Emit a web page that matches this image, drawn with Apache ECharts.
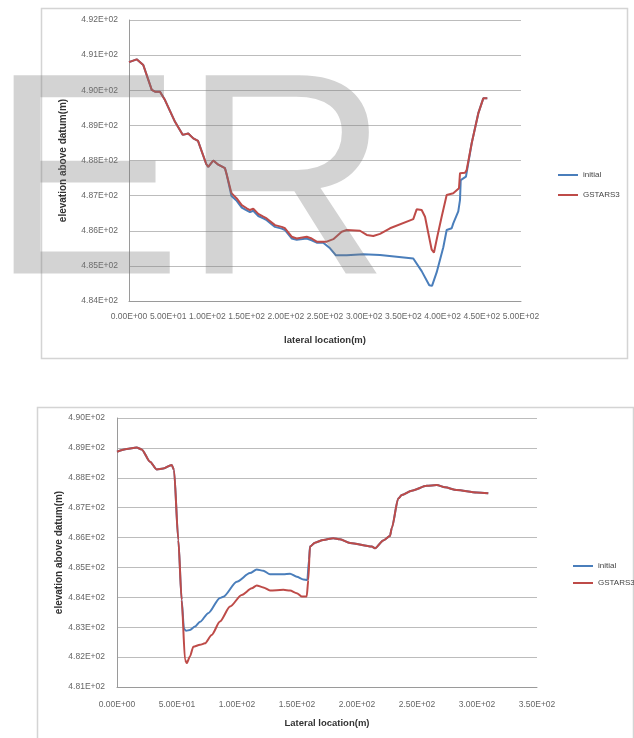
<!DOCTYPE html>
<html>
<head>
<meta charset="utf-8">
<script src="https://cdn.jsdelivr.net/npm/echarts@6/dist/echarts.min.js"></script>
<style>
  html, body { margin: 0; padding: 0; background: #fff; }
  #main { width: 634px; height: 738px; }
</style>
</head>
<body>
<div id="main"></div>
<script>
// tick labels
var xTicksTop = ['0.00E+00','5.00E+01','1.00E+02','1.50E+02','2.00E+02','2.50E+02','3.00E+02','3.50E+02','4.00E+02','4.50E+02','5.00E+02'];
var yTicksTop = ['4.84E+02','4.85E+02','4.86E+02','4.87E+02','4.88E+02','4.89E+02','4.90E+02','4.91E+02','4.92E+02'];
var xTicksBot = ['0.00E+00','5.00E+01','1.00E+02','1.50E+02','2.00E+02','2.50E+02','3.00E+02','3.50E+02'];
var yTicksBot = ['4.81E+02','4.82E+02','4.83E+02','4.84E+02','4.85E+02','4.86E+02','4.87E+02','4.88E+02','4.89E+02','4.90E+02'];

// top chart - lateral location (m) / elevation (m)
var topGstarsX = [0, 9.8, 18.2, 29.0, 33.2, 39.5, 45.9, 58.7, 68.5, 75.6, 82.0, 88.0, 98.5, 101.1, 107.5, 113.9, 122.4, 124.6, 130.7, 137.4, 143.8, 150.1, 154.3, 158.5, 164.9, 171.3, 175.6, 186.2, 194.8, 199.0, 207.5, 213.9, 226.7, 233.0, 239.4, 252.2, 260.6, 271.3, 277.7, 294.6, 303.2, 311.6, 320.2, 332.9, 362.6, 366.9, 373.3, 377.6, 381.8, 386.1, 389.0, 393.2, 398.8, 405.2, 413.6, 420.9, 422.2, 428.6, 430.7, 437.1, 445.5, 451.9, 457.0];
var topGstarsY = [490.80, 490.88, 490.72, 490.01, 489.96, 489.96, 489.72, 489.10, 488.73, 488.77, 488.63, 488.56, 487.90, 487.82, 488.00, 487.88, 487.78, 487.60, 487.07, 486.92, 486.73, 486.64, 486.59, 486.63, 486.48, 486.40, 486.35, 486.16, 486.11, 486.07, 485.83, 485.78, 485.83, 485.78, 485.69, 485.69, 485.76, 485.97, 486.02, 486.00, 485.88, 485.85, 485.91, 486.07, 486.33, 486.61, 486.59, 486.40, 485.93, 485.46, 485.38, 485.83, 486.40, 487.02, 487.07, 487.21, 487.64, 487.65, 487.73, 488.49, 489.34, 489.77, 489.77];
var topInitialX = [0, 9.8, 18.2, 29.0, 33.2, 39.5, 45.9, 58.7, 68.5, 75.6, 82.0, 88.0, 98.5, 101.1, 107.5, 113.9, 122.4, 124.6, 130.7, 137.4, 143.8, 150.1, 154.3, 158.5, 164.9, 171.3, 175.6, 186.2, 194.8, 199.0, 207.5, 213.9, 226.7, 233.0, 239.4, 247.8, 256.4, 264.0, 277.7, 298.9, 320.2, 362.6, 373.3, 383.0, 386.5, 392.5, 400.9, 405.2, 411.6, 413.6, 420.0, 422.2, 423.1, 429.8, 437.1, 445.5, 451.9, 457.0];
var topInitialY = [490.80, 490.88, 490.72, 490.01, 489.96, 489.96, 489.72, 489.10, 488.73, 488.77, 488.63, 488.56, 487.90, 487.82, 488.00, 487.88, 487.78, 487.60, 486.99, 486.85, 486.66, 486.58, 486.53, 486.57, 486.42, 486.35, 486.30, 486.11, 486.06, 486.02, 485.78, 485.74, 485.78, 485.73, 485.66, 485.66, 485.50, 485.30, 485.30, 485.33, 485.31, 485.21, 484.85, 484.45, 484.43, 484.82, 485.53, 486.02, 486.07, 486.21, 486.55, 486.88, 487.44, 487.54, 488.49, 489.34, 489.77, 489.77];

// bottom chart
var botGstarsX = [0, 8.1, 16.4, 20.6, 27.5, 33.1, 38.6, 45.6, 47.5, 51.1, 53.9, 56.7, 58.1, 60.8, 63.6, 69.2, 73.3, 78.9, 85.8, 94.2, 103.9, 112.3, 116.4, 121.9, 127.5, 138.6, 144.2, 149.8, 153.9, 158.1, 159.4, 160.8, 165.0, 171.9, 180.3, 185.8, 194.2, 212.3, 215.0, 221.9, 227.5, 228.9, 234.4, 237.3, 245.6, 258.1, 266.4, 273.3, 283.1, 299.8, 309.4];
var botGstarsY = [488.87, 488.96, 489.01, 488.95, 488.54, 488.28, 488.31, 488.43, 488.26, 485.92, 483.91, 481.91, 481.80, 482.02, 482.35, 482.41, 482.46, 482.74, 483.19, 483.69, 484.08, 484.30, 484.40, 484.33, 484.23, 484.25, 484.23, 484.14, 484.03, 484.03, 484.58, 485.70, 485.83, 485.92, 485.98, 485.94, 485.82, 485.70, 485.64, 485.90, 486.05, 486.31, 487.31, 487.42, 487.57, 487.73, 487.76, 487.68, 487.59, 487.51, 487.48];
var botInitialX = [0, 8.1, 16.4, 20.6, 27.5, 33.1, 38.6, 45.6, 47.5, 51.1, 53.9, 55.8, 57.5, 60.8, 65.0, 69.2, 76.0, 85.8, 88.6, 99.8, 110.8, 116.4, 121.9, 127.5, 138.6, 144.2, 149.8, 155.3, 158.6, 160.0, 160.8, 165.0, 171.9, 180.3, 185.8, 194.2, 212.3, 215.0, 221.9, 227.5, 228.9, 234.4, 237.3, 245.6, 258.1, 266.4, 273.3, 283.1, 299.8, 309.4];
var botInitialY = [488.87, 488.96, 489.01, 488.95, 488.54, 488.28, 488.31, 488.43, 488.26, 485.92, 483.91, 482.95, 482.88, 482.91, 483.02, 483.18, 483.47, 483.98, 484.02, 484.52, 484.81, 484.93, 484.89, 484.77, 484.77, 484.79, 484.69, 484.60, 484.58, 485.25, 485.70, 485.83, 485.92, 485.98, 485.94, 485.82, 485.70, 485.64, 485.90, 486.05, 486.31, 487.31, 487.42, 487.57, 487.73, 487.76, 487.68, 487.59, 487.51, 487.48];

function pairs(xs, ys) {
    var out = [];
    for (var i = 0; i < xs.length; i++) out.push([xs[i], ys[i]]);
    return out;
}

var blue = '#4a7ebb';
var red = '#be4b48';
var font = '"Liberation Sans", Arial, sans-serif';
var labelStyle = { color: '#666', fontSize: 8.5, fontFamily: font };
var xNameStyle = { color: '#333', fontSize: 9.5, fontWeight: 'bold', fontFamily: font };
var yNameStyle = { color: '#333', fontSize: 10, fontWeight: 'bold', fontFamily: font };
var gridLine = { show: true, lineStyle: { color: '#bcbcbc', width: 1 } };
var axLine = { show: true, lineStyle: { color: '#9a9a9a', width: 1 } };

var chart = echarts.init(document.getElementById('main'));

var option = {
    backgroundColor: '#fff',
    animation: false,
    grid: [
        { left: 129, top: 20, width: 392, height: 281 },
        { left: 117, top: 418, width: 420, height: 269 }
    ],
    xAxis: [
        {
            gridIndex: 0, type: 'value', min: 0, max: 500, interval: 50,
            axisLine: axLine, axisTick: { show: false }, splitLine: { show: false },
            axisLabel: Object.assign({ margin: 11, formatter: function (v) { return xTicksTop[Math.round(v / 50)]; } }, labelStyle),
            name: 'lateral location(m)', nameLocation: 'middle', nameGap: 34, nameTextStyle: xNameStyle
        },
        {
            gridIndex: 1, type: 'value', min: 0, max: 350, interval: 50,
            axisLine: axLine, axisTick: { show: false }, splitLine: { show: false },
            axisLabel: Object.assign({ margin: 13, formatter: function (v) { return xTicksBot[Math.round(v / 50)]; } }, labelStyle),
            name: 'Lateral location(m)', nameLocation: 'middle', nameGap: 31, nameTextStyle: xNameStyle
        }
    ],
    yAxis: [
        {
            gridIndex: 0, type: 'value', min: 484, max: 492, interval: 1,
            axisLine: axLine, axisTick: { show: false }, splitLine: gridLine,
            axisLabel: Object.assign({ margin: 11, formatter: function (v) { return yTicksTop[Math.round(v - 484)]; } }, labelStyle),
            name: 'elevation above datum(m)', nameLocation: 'middle', nameGap: 61, nameMoveOverlap: false, nameTextStyle: yNameStyle
        },
        {
            gridIndex: 1, type: 'value', min: 481, max: 490, interval: 1,
            axisLine: axLine, axisTick: { show: false }, splitLine: gridLine,
            axisLabel: Object.assign({ margin: 12, formatter: function (v) { return yTicksBot[Math.round(v - 481)]; } }, labelStyle),
            name: 'elevation above datum(m)', nameLocation: 'middle', nameGap: 53, nameMoveOverlap: false, nameTextStyle: yNameStyle
        }
    ],
    legend: [
        {
            orient: 'vertical', left: 553, top: 166, itemWidth: 20, itemHeight: 2, itemGap: 12,
            icon: 'rect', data: ['initial', 'GSTARS3'],
            textStyle: { color: '#444', fontSize: 8, fontFamily: font }
        },
        {
            orient: 'vertical', left: 568, top: 557, itemWidth: 20, itemHeight: 2, itemGap: 9,
            icon: 'rect', data: ['initial', 'GSTARS3'],
            textStyle: { color: '#444', fontSize: 8, fontFamily: font }
        }
    ],
    series: [
        {
            name: 'initial', type: 'line', xAxisIndex: 0, yAxisIndex: 0, showSymbol: false,
            data: pairs(topInitialX, topInitialY), lineStyle: { color: blue, width: 2 }, itemStyle: { color: blue }
        },
        {
            name: 'GSTARS3', type: 'line', xAxisIndex: 0, yAxisIndex: 0, showSymbol: false,
            data: pairs(topGstarsX, topGstarsY), lineStyle: { color: red, width: 2 }, itemStyle: { color: red }
        },
        {
            name: 'initial', type: 'line', xAxisIndex: 1, yAxisIndex: 1, showSymbol: false,
            smooth: 0.25, smoothMonotone: 'x',
            data: pairs(botInitialX, botInitialY), lineStyle: { color: blue, width: 2 }, itemStyle: { color: blue }
        },
        {
            name: 'GSTARS3', type: 'line', xAxisIndex: 1, yAxisIndex: 1, showSymbol: false,
            smooth: 0.25, smoothMonotone: 'x',
            data: pairs(botGstarsX, botGstarsY), lineStyle: { color: red, width: 2 }, itemStyle: { color: red }
        }
    ],
    graphic: [
        // chart frames
        { type: 'rect', shape: { x: 41.5, y: 8.5, width: 586, height: 350 }, style: { fill: 'none', stroke: '#d4d4d4', lineWidth: 1.5 }, z: 0 },
        { type: 'rect', shape: { x: 37.5, y: 407.5, width: 596, height: 340 }, style: { fill: 'none', stroke: '#d4d4d4', lineWidth: 1.5 }, z: 0 },
        // watermark
        {
            type: 'text', z: 100, silent: true,
            style: { text: 'ER', x: -10, y: 194, fontSize: 288, fontFamily: font, fill: 'rgba(120,120,120,0.33)', verticalAlign: 'middle', align: 'left' }
        }
    ]
};

chart.setOption(option);
</script>
</body>
</html>
